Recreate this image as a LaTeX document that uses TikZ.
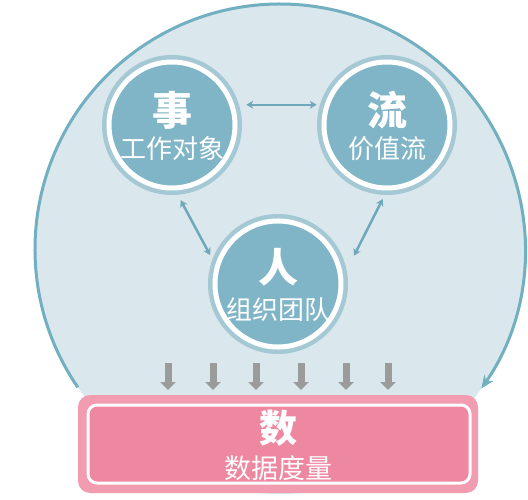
\documentclass[tikz,border=0pt]{standalone}
\usepackage{fontspec}
\setmainfont{Noto Sans CJK SC}
\usetikzlibrary{arrows.meta}
\definecolor{bigfill}{HTML}{DAE8ED}
\definecolor{bigline}{HTML}{72AFC0}
\definecolor{ringc}{HTML}{A4C9D4}
\definecolor{cfill}{HTML}{7FB5C7}
\definecolor{arrowc}{HTML}{6EA8B9}
\definecolor{pinkout}{HTML}{F29CB1}
\definecolor{pinkin}{HTML}{EE87A0}
\definecolor{grayc}{HTML}{9B9B9B}
\tikzset{
  bubble/.style={circle, minimum size=126pt, inner sep=0pt, fill=cfill, draw=white, line width=5pt,
    preaction={draw=ringc, line width=14pt}},
  bigtxt/.style={text=white, inner sep=0pt, font=\bfseries\fontsize{40}{44}\selectfont},
  subtxt/.style={text=white, inner sep=0pt, font=\fontsize{26}{30}\selectfont},
  biarrow/.style={arrowc, line width=2.5pt, {Stealth[length=7pt,width=8pt]}-{Stealth[length=7pt,width=8pt]}},
  downarrow/.style={grayc, line width=7pt, -{Triangle[length=8pt,width=15pt]}},
}
\begin{document}
\begin{tikzpicture}[x=1pt,y=-1pt]
\useasboundingbox (0,0) rectangle (528,500);
% big circle
\fill[bigfill] (280,249) circle[radius=245];
\draw[bigline, line width=3pt, -{Stealth[length=13pt,width=11pt]}]
  (280,249) ++(145.6:245) arc[start angle=145.6, end angle=394.7, radius=245];
% bubbles
\node[bubble] (shi) at (172,125) {};
\node[bubble] (liu) at (387,125) {};
\node[bubble] (ren) at (278,284) {};
\node[bigtxt] (shiT) at (172,110) {事};
\node[subtxt] (shiS) at (172,149) {工作对象};
\node[bigtxt] (liuT) at (387,110) {流};
\node[subtxt] (liuS) at (387,149) {价值流};
\node[bigtxt] (renT) at (278,267) {人};
\node[subtxt] (renS) at (278,310) {组织团队};
% connectors
\draw[biarrow, shorten <=12pt, shorten >=8pt] (shi.18) -- (liu.162);
\draw[biarrow, shorten <=11pt, shorten >=11pt] (shi.-87) -- (ren.163);
\draw[biarrow, shorten <=9.5pt, shorten >=24pt] (liu.-90) -- (ren.6);
% gray arrows
\foreach \i/\x in {1/168,2/213,3/256,4/301,5/346,6/388}{
  \coordinate (a\i) at (\x,363);
  \coordinate (b\i) at (\x,390);
  \draw[downarrow] (a\i) -- (b\i);
}
% data box
\node[fill=pinkout, rounded corners=12pt, minimum width=400pt, minimum height=98pt, inner sep=0pt] (shu) at (278,444) {};
\node[fill=pinkin, draw=white, line width=3pt, rounded corners=9pt, minimum width=382pt, minimum height=78pt, inner sep=0pt] (shuin) at (279,444) {};
\node[text=white, inner sep=0pt, font=\bfseries\fontsize{38}{42}\selectfont] (shuT) at (278,428) {数};
\node[text=white, inner sep=0pt, font=\fontsize{27}{31}\selectfont] (shuS) at (278,468) {数据度量};
\end{tikzpicture}
\end{document}
